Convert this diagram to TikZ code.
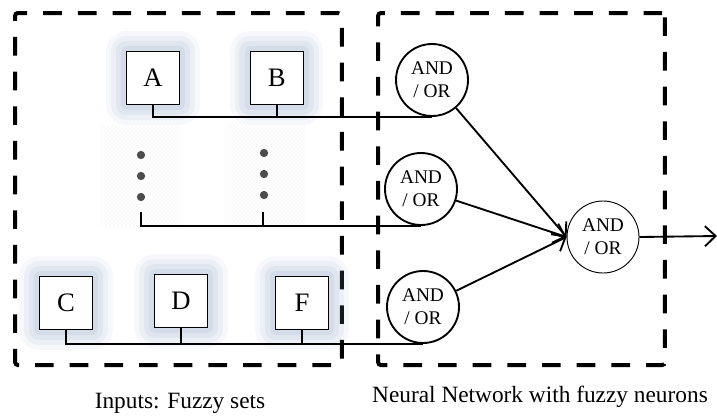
\documentclass[tikz,border=0pt]{standalone}
\usepackage{fontspec}
\setmainfont{Liberation Serif}
\usetikzlibrary{arrows.meta,positioning,patterns}

\begin{document}
\begin{tikzpicture}[x=0.75pt,y=-0.75pt,>={Straight Barb[length=8pt,width=15pt]}]
  \definecolor{glowc}{RGB}{140,160,195}
  \tikzstyle{group}=[draw,line width=3pt,dash pattern=on 14pt off 12pt,rounded corners=2pt,inner sep=0pt]
  \tikzstyle{setbox}=[draw,fill=white,line width=0.8pt,minimum size=40pt,inner sep=0pt,font=\fontsize{20}{22}\selectfont,
    preaction={draw=glowc,line width=30pt,line join=round,opacity=.07},
    preaction={draw=glowc,line width=23pt,line join=round,opacity=.1},
    preaction={draw=glowc,line width=16pt,line join=round,opacity=.12},
    preaction={draw=glowc,line width=8pt,line join=round,opacity=.14}]
  \tikzstyle{gate}=[draw,circle,fill=white,line width=1.4pt,minimum size=54pt,inner sep=0pt,align=center,font=\fontsize{14.5}{17}\selectfont]
  \tikzstyle{dotfield}=[minimum width=60pt,minimum height=75pt,pattern=crosshatch dots,pattern color=black!8]
  \tikzstyle{wire}=[line width=1.4pt]
  \tikzstyle{caption}=[font=\fontsize{17.5}{20}\selectfont]
  \useasboundingbox (0,0) rectangle (717,415);

  % the two groups
  \node[group,minimum width=245pt,minimum height=264pt] (inbox) at (178.5,189) {};
  \node[group,minimum width=215pt,minimum height=264pt] (nnbox) at (521.5,189) {};

  % fuzzy sets
  \node[setbox] (a) at (153,78) {A};
  \node[setbox,right=52pt of a] (b) {B};
  \node[setbox] (c) at (66,303) {C};
  \node[setbox] (d) at (181,301) {D};
  \node[setbox] (f) at (302,303) {F};
  \node[dotfield] (col1) at (140,175) {};
  \node[dotfield] (col2) at (265,173) {};
  \foreach \dy in {-21,0,21} {
    \fill[black!70] (141,176) ++(0,\dy) circle (3.1pt);
    \fill[black!70] (264,174) ++(0,\dy) circle (3.1pt);
  }
  \coordinate (s1) at (141,212);
  \coordinate (s2) at (263,212);

  % fuzzy neurons
  \node[gate] (n1) at (432,80) {AND\\/ OR};
  \node[gate] (n2) at (421,189) {AND\\/ OR};
  \node[gate] (n3) at (423,307) {AND\\/ OR};
  \node[gate,line width=0.7pt] (out) at (603,237) {AND\\/ OR};
  \coordinate (y) at (717,236);

  \draw[wire] (a.south) |- (n1.south);
  \draw[wire] (b.south) -- (b.south |- n1.south);
  \draw[wire] (s1) |- (n2.south);
  \draw[wire] (s2) -- (s2 |- n2.south);
  \draw[wire] (c.south) |- (n3.south);
  \draw[wire] (d.south) -- (d.south |- n3.south);
  \draw[wire] (f.south) -- (f.south |- n3.south);
  \draw[->,wire] (n1) -- (out.west);
  \draw[->,wire] (n2) -- (out.west);
  \draw[->,wire] (n3) -- (out.west);
  \draw[->,wire] (out.east) -- (y);

  \node[caption] (inlabel) at (180,403) {Inputs: Fuzzy sets};
  \node[caption] (nnlabel) at (540,397) {Neural Network with fuzzy neurons};
\end{tikzpicture}
\end{document}
